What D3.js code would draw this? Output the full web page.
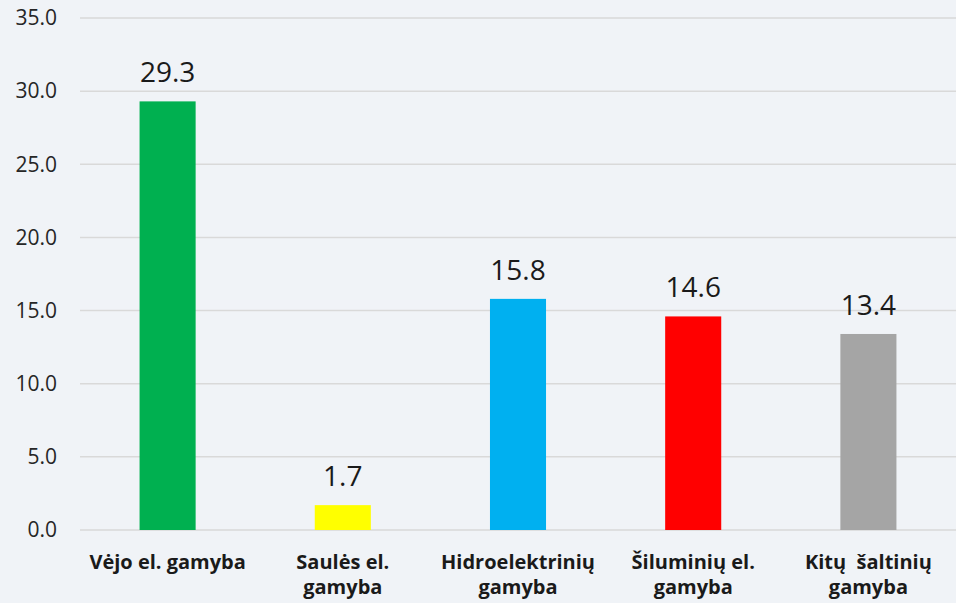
<!DOCTYPE html>
<html>
<head>
<meta charset="utf-8">
<script src="https://cdn.jsdelivr.net/npm/d3@7"></script>
<style>
  html, body { margin: 0; padding: 0; background: #f0f3f7; }
  svg { display: block; font-family: "Open Sans", "Noto Sans", sans-serif; }
</style>
</head>
<body>
<div id="vis"></div>
<script>
// Chart data
const categories = ['Vėjo el. gamyba', 'Saulės el.\ngamyba', 'Hidroelektrinių\ngamyba', 'Šiluminių el.\ngamyba', 'Kitų  šaltinių\ngamyba'];
const values = [29.3, 1.7, 15.8, 14.6, 13.4];
const colors = ['#00b050', '#ffff00', '#00b0f0', '#ff0000', '#a5a5a5'];
const yTicks = [0, 5, 10, 15, 20, 25, 30, 35];

// SVG size and margins
const width = 956;
const height = 603;
const margin = { top: 18, right: 0, bottom: 73, left: 80 };
const drawWidth = width - margin.left - margin.right;
const drawHeight = height - margin.top - margin.bottom;

const svg = d3.select('#vis')
    .append('svg')
    .attr('width', width)
    .attr('height', height);

svg.append('rect')
    .attr('width', width)
    .attr('height', height)
    .attr('fill', '#f0f3f7');

const g = svg.append('g')
    .attr('transform', `translate(${margin.left},${margin.top})`);

// Scales
const xScale = d3.scaleBand()
    .domain(categories)
    .range([0, drawWidth])
    .paddingInner(0.68)
    .paddingOuter(0.34);

const yScale = d3.scaleLinear()
    .domain([0, 35])
    .range([drawHeight, 0]);

// Gridlines
g.append('g')
    .selectAll('line')
    .data(yTicks)
    .enter()
    .append('line')
    .attr('x1', 0)
    .attr('x2', drawWidth)
    .attr('y1', d => yScale(d))
    .attr('y2', d => yScale(d))
    .attr('stroke', '#d9d9d9')
    .attr('stroke-width', 1.5);

// Y axis
const yAxis = d3.axisLeft(yScale)
    .tickValues(yTicks)
    .tickFormat(d3.format('.1f'))
    .tickSize(0)
    .tickPadding(23);

const yAxisG = g.append('g')
    .attr('class', 'yaxis')
    .call(yAxis);
yAxisG.select('.domain').remove();
yAxisG.selectAll('text')
    .attr('font-size', 21)
    .attr('fill', '#262626')
    .attr('font-family', '"Open Sans", sans-serif');

// Bars
g.selectAll('.bar')
    .data(values)
    .enter()
    .append('rect')
    .attr('class', 'bar')
    .attr('x', (d, i) => xScale(categories[i]))
    .attr('y', d => yScale(d))
    .attr('width', xScale.bandwidth())
    .attr('height', d => drawHeight - yScale(d))
    .attr('fill', (d, i) => colors[i]);

// Value labels
g.selectAll('.value')
    .data(values)
    .enter()
    .append('text')
    .attr('class', 'value')
    .attr('x', (d, i) => xScale(categories[i]) + xScale.bandwidth() / 2)
    .attr('y', d => yScale(d) - 19)
    .attr('text-anchor', 'middle')
    .attr('font-size', 28)
    .attr('fill', '#1a1a1a')
    .text(d => d.toFixed(1));

// Category labels
const catLabels = g.selectAll('.cat')
    .data(categories)
    .enter()
    .append('text')
    .attr('class', 'cat')
    .attr('text-anchor', 'middle')
    .attr('font-size', 20)
    .attr('font-weight', 'bold')
    .attr('fill', '#1a1a1a')
    .attr('transform', d => `translate(${xScale(d) + xScale.bandwidth() / 2},${drawHeight + 39})`);

catLabels.selectAll('tspan')
    .data(d => d.split('\n'))
    .enter()
    .append('tspan')
    .attr('x', 0)
    .attr('dy', (d, i) => i === 0 ? 0 : 25)
    .attr('xml:space', 'preserve')
    .style('white-space', 'pre')
    .text(d => d);
</script>
</body>
</html>
